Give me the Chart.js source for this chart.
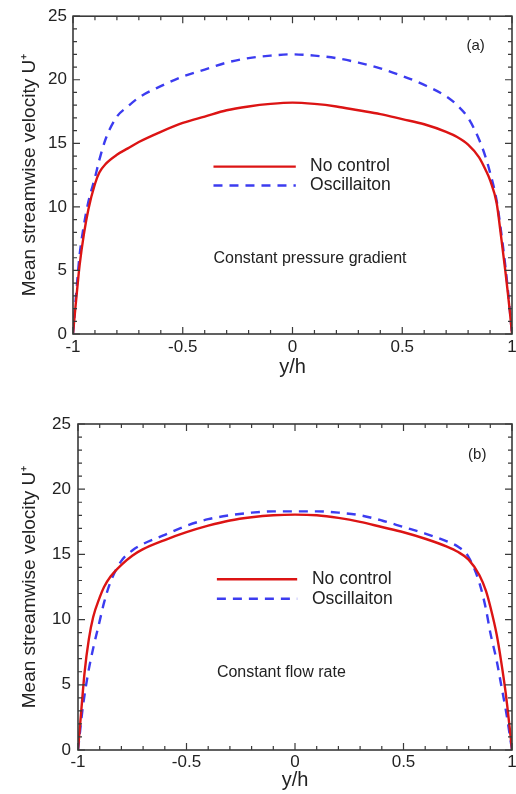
<!DOCTYPE html>
<html>
<head>
<meta charset="utf-8">
<script src="https://cdn.jsdelivr.net/npm/chart.js@4"></script>
<style>
  html, body { margin: 0; padding: 0; background: #fff; }
  body { width: 516px; height: 794px; position: relative; overflow: hidden; }
  .panel { position: absolute; left: 0; width: 516px; }
  #panelA { top: 0; height: 390px; }
  #panelB { top: 390px; height: 404px; }
</style>
</head>
<body>
<div class="panel" id="panelA"><canvas id="chartA"></canvas></div>
<div class="panel" id="panelB"><canvas id="chartB"></canvas></div>
<script>
// ====== DATA ======
const yh = [-1, -0.99, -0.98, -0.97, -0.95, -0.93, -0.9, -0.88, -0.85, -0.8, -0.75, -0.7, -0.6, -0.5, -0.4, -0.3, -0.2, -0.1,
  0, 0.1, 0.2, 0.3, 0.4, 0.5, 0.6, 0.7, 0.75, 0.8, 0.85, 0.88, 0.9, 0.93, 0.95, 0.97, 0.98, 0.99, 1];

// (a) constant pressure gradient
const noControlA = [0, 1.9, 3.7, 5.4, 7.9, 9.8, 11.8, 12.7, 13.4, 14.1, 14.6, 15.1, 15.9, 16.6, 17.1, 17.6, 17.9, 18.1,
  18.2, 18.1, 17.9, 17.6, 17.3, 16.9, 16.5, 15.9, 15.5, 14.9, 13.9, 12.9, 12.1, 10.3, 7.7, 4.9, 3.4, 1.8, 0];
const oscillationA = [0, 2.2, 4.3, 6.2, 8.6, 10.4, 12.3, 13.7, 15.4, 17.1, 17.9, 18.6, 19.5, 20.25, 20.8, 21.35, 21.7, 21.9,
  22.0, 21.9, 21.7, 21.35, 20.9, 20.3, 19.6, 18.7, 18.0, 17.0, 15.3, 13.9, 12.7, 10.5, 8.1, 5.3, 3.7, 1.9, 0];

// (b) constant flow rate
const noControlB = [0, 2.0, 4.0, 5.9, 8.5, 10.2, 11.7, 12.5, 13.3, 14.2, 14.9, 15.4, 16.1, 16.7, 17.2, 17.6, 17.85, 18.0,
  18.05, 18.0, 17.8, 17.5, 17.1, 16.7, 16.2, 15.6, 15.2, 14.6, 13.4, 12.2, 11.0, 8.8, 6.8, 4.5, 3.1, 1.6, 0];
const oscillationB = [0, 1.5, 3.0, 4.2, 6.2, 7.8, 9.9, 11.3, 12.9, 14.5, 15.3, 15.8, 16.5, 17.2, 17.7, 18.0, 18.2, 18.3,
  18.3, 18.3, 18.2, 18.0, 17.6, 17.1, 16.6, 16.0, 15.6, 14.8, 12.8, 10.8, 9.0, 6.8, 5.0, 3.2, 2.2, 1.1, 0];

const seriesLabels = ['No control', 'Oscillaiton'];
const xTicks = [-1, -0.5, 0, 0.5, 1];
const yTicks = [0, 5, 10, 15, 20, 25];
const xMinorStep = 0.1;
const yMinorStep = 1;

const FONT = '"Liberation Sans", Arial, Helvetica, sans-serif';
const INK = '#222';

// ====== PLUGINS ======
// frame with inward major/minor ticks on all four sides
const frameTicks = {
  id: 'frameTicks',
  afterDraw(chart) {
    const { ctx, chartArea: a, scales: { x, y } } = chart;
    ctx.save();
    ctx.strokeStyle = '#3a3a3a';
    ctx.lineWidth = 1.2;
    ctx.beginPath();
    const nx = Math.round((xTicks[xTicks.length - 1] - xTicks[0]) / xMinorStep);
    for (let i = 0; i <= nx; i++) {
      const px = x.getPixelForValue(xTicks[0] + i * xMinorStep);
      const len = i % 5 === 0 ? 7 : 4;
      ctx.moveTo(px, a.bottom); ctx.lineTo(px, a.bottom - len);
      ctx.moveTo(px, a.top); ctx.lineTo(px, a.top + len);
    }
    const ny = Math.round((yTicks[yTicks.length - 1] - yTicks[0]) / yMinorStep);
    for (let i = 0; i <= ny; i++) {
      const py = y.getPixelForValue(yTicks[0] + i * yMinorStep);
      const len = i % 5 === 0 ? 7 : 4;
      ctx.moveTo(a.left, py); ctx.lineTo(a.left + len, py);
      ctx.moveTo(a.right, py); ctx.lineTo(a.right - len, py);
    }
    ctx.stroke();
    ctx.lineWidth = 1.6;
    ctx.strokeRect(a.left, a.top, a.right - a.left, a.bottom - a.top);
    ctx.restore();
  }
};

// legend inside the plot + panel notes
const inlineNotes = {
  id: 'inlineNotes',
  afterDatasetsDraw(chart, args, opts) {
    const { ctx, scales: { x, y } } = chart;
    ctx.save();
    ctx.fillStyle = INK;
    ctx.textBaseline = 'middle';
    chart.data.datasets.forEach((ds, i) => {
      const py = y.getPixelForValue(opts.rows[i]);
      ctx.beginPath();
      ctx.strokeStyle = ds.borderColor;
      ctx.lineWidth = ds.borderWidth;
      ctx.setLineDash(ds.borderDash || []);
      ctx.moveTo(x.getPixelForValue(opts.x0), py);
      ctx.lineTo(x.getPixelForValue(opts.x1), py);
      ctx.stroke();
      ctx.setLineDash([]);
      ctx.font = '17.5px ' + FONT;
      ctx.textAlign = 'left';
      ctx.fillText(ds.label, x.getPixelForValue(opts.xt), py);
    });
    ctx.font = '16px ' + FONT;
    ctx.textAlign = 'left';
    ctx.fillText(opts.note.text, x.getPixelForValue(opts.note.x), y.getPixelForValue(opts.note.y));
    ctx.font = '15px ' + FONT;
    ctx.textAlign = 'center';
    ctx.fillText(opts.tag.text, x.getPixelForValue(opts.tag.x), y.getPixelForValue(opts.tag.y));
    ctx.restore();
  }
};

// ====== CHARTS ======
function makeChart(id, red, blue, cfg) {
  const pts = arr => yh.map((v, i) => ({ x: v, y: arr[i] }));
  return new Chart(document.getElementById(id), {
    type: 'line',
    data: {
      datasets: [
        { label: seriesLabels[0], data: pts(red), borderColor: '#dc1414', borderWidth: 2.4, pointRadius: 0, cubicInterpolationMode: 'monotone' },
        { label: seriesLabels[1], data: pts(blue), borderColor: '#3c3cf0', borderWidth: 2.4, borderDash: [9, 7], pointRadius: 0, cubicInterpolationMode: 'monotone' },
      ]
    },
    options: {
      responsive: true, maintainAspectRatio: false, animation: false,
      layout: { padding: { left: 0, right: 4, top: cfg.top, bottom: 0 } },
      plugins: {
        legend: { display: false }, tooltip: { enabled: false },
        inlineNotes: cfg.notes
      },
      scales: {
        x: {
          type: 'linear', min: -1, max: 1,
          afterFit: s => { s.height = cfg.xHeight; s.paddingLeft = 0; s.paddingRight = 0; },
          afterBuildTicks: s => { s.ticks = xTicks.map(v => ({ value: v })); },
          grid: { display: false, drawTicks: false }, border: { display: false },
          ticks: { color: INK, font: { family: FONT, size: 17 }, padding: cfg.xPad, maxRotation: 0, callback: v => String(v) },
          title: { display: true, text: 'y/h', color: INK, font: { family: FONT, size: 20 }, padding: { top: 0, bottom: cfg.xTitlePad } }
        },
        y: {
          min: 0, max: 25,
          afterFit: s => { s.width = cfg.yWidth; },
          afterBuildTicks: s => { s.ticks = yTicks.map(v => ({ value: v })); },
          grid: { display: false, drawTicks: false }, border: { display: false },
          ticks: { color: INK, font: { family: FONT, size: 17 }, padding: cfg.yPad, callback: v => String(v) },
          title: { display: true, text: 'Mean streamwise velocity U\u207A', color: INK, font: { family: FONT, size: 19 }, padding: { top: 18, bottom: 0 } }
        }
      }
    },
    plugins: [frameTicks, inlineNotes]
  });
}

makeChart('chartA', noControlA, oscillationA, {
  top: 15, xHeight: 56, yWidth: 73, xPad: 3, yPad: 6, xTitlePad: 11,
  notes: {
    x0: -0.36, x1: 0.015, xt: 0.08, rows: [13.17, 11.68],
    note: { text: 'Constant pressure gradient', x: -0.36, y: 5.9 },
    tag: { text: '(a)', x: 0.834, y: 22.7 }
  }
});

makeChart('chartB', noControlB, oscillationB, {
  top: 34, xHeight: 44, yWidth: 78, xPad: 2, yPad: 7, xTitlePad: 2,
  notes: {
    x0: -0.36, x1: 0.01, xt: 0.078, rows: [13.1, 11.6],
    note: { text: 'Constant flow rate', x: -0.36, y: 5.9 },
    tag: { text: '(b)', x: 0.84, y: 22.6 }
  }
});
</script>
</body>
</html>
